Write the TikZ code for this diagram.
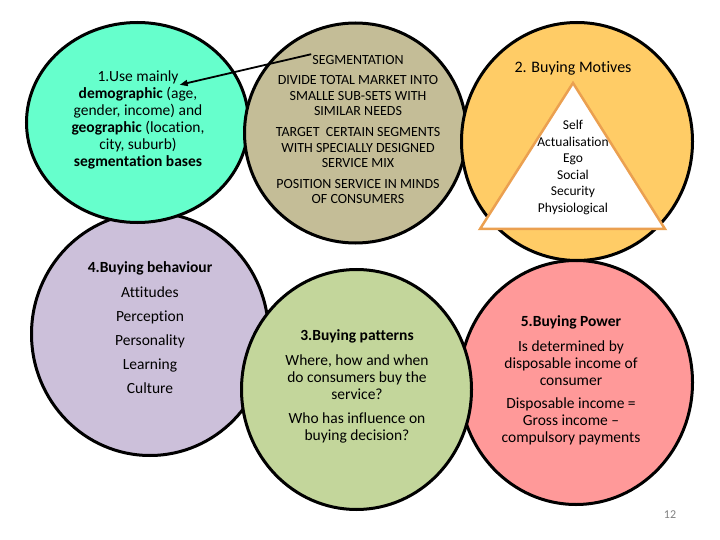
\documentclass[tikz,border=0pt]{standalone}
\usepackage{fontspec}
\setmainfont{Carlito}[Ligatures=NoCommon]
\usetikzlibrary{positioning,arrows.meta,shapes.geometric}

\definecolor{segcyan}{RGB}{102,255,204}
\definecolor{segtan}{RGB}{196,189,151}
\definecolor{motorange}{RGB}{255,204,102}
\definecolor{behpurple}{RGB}{204,192,218}
\definecolor{patgreen}{RGB}{195,214,155}
\definecolor{powpink}{RGB}{255,153,153}
\definecolor{triedge}{RGB}{235,160,80}

\tikzset{
  blob/.style={ellipse, draw=black, line width=3pt, inner sep=0pt},
  txt/.style={align=center, inner sep=1pt, font=\fontsize{15.5}{17}\selectfont},
  head/.style={txt, font=\fontsize{15.5}{17}\selectfont\bfseries},
  caps/.style={align=center, inner sep=1pt, font=\fontsize{14}{15.5}\selectfont},
}

\begin{document}
\begin{tikzpicture}[x=1pt, y=-1pt]
  \useasboundingbox (0,0) rectangle (720,540);

  % circles, back to front
  \node[blob, fill=behpurple, minimum width=237pt, minimum height=243pt] (behav) at (150,334) {};
  \node[blob, fill=segcyan, minimum width=222pt, minimum height=200pt] (demo) at (137.5,122.5) {};
  \node[blob, fill=segtan, minimum width=222pt, minimum height=220pt] (segm) at (355.5,133) {};
  \node[blob, fill=powpink, minimum width=233pt, minimum height=244pt] (power) at (576,382.5) {};
  \node[blob, fill=motorange, minimum width=231pt, minimum height=238pt] (motive) at (577,141.5) {};
  \node[blob, fill=patgreen, minimum width=230pt, minimum height=240pt] (pattern) at (356.5,389.5) {};

  % pyramid
  \draw[triedge, line width=2.5pt, fill=white] (573,83) -- (665,229) -- (480,229) -- cycle;

  % 1
  \node[txt] (usem) at (138,77) {1.Use mainly};
  \node[txt] (demotxt) at (138,128) {\textbf{demographic} (age,\\ gender, income) and\\ \textbf{geographic} (location,\\ city, suburb)\\ \textbf{segmentation bases}};

  % segmentation
  \node[caps] (seg) at (358,60) {SEGMENTATION};
  \node[caps] (divide) at (358,96) {DIVIDE TOTAL MARKET INTO\\ SMALLE SUB-SETS WITH\\ SIMILAR NEEDS};
  \node[caps] (target) at (358,148) {TARGET\ \ CERTAIN SEGMENTS\\ WITH SPECIALLY DESIGNED\\ SERVICE MIX};
  \node[caps] (position) at (358,191.5) {POSITION SERVICE IN MINDS\\ OF CONSUMERS};

  % 2
  \node[txt, font=\fontsize{16}{19}\selectfont] (mottitle) at (573,68) {2. Buying Motives};
  \node[align=center, inner sep=1pt, font=\fontsize{13.5}{16.6}\selectfont] (maslow) at (573,167.5) {Self\\ Actualisation\\ Ego\\ Social\\ Security\\ Physiological};

  % 4
  \node[head] (behtitle) at (150,268) {4.Buying behaviour};
  \node[txt, font=\fontsize{15.5}{24}\selectfont] (behlist) at (150,340) {Attitudes\\ Perception\\ Personality\\ Learning\\ Culture};

  % 3
  \node[head] (pattitle) at (357,336) {3.Buying patterns};
  \node[txt] (where) at (357,377) {Where, how and when\\ do consumers buy the\\ service?};
  \node[txt] (who) at (357,427.5) {Who has influence on\\ buying decision?};

  % 5
  \node[head] (powtitle) at (571,322) {5.Buying Power};
  \node[txt] (determ) at (571,363) {Is determined by\\ disposable income of\\ consumer};
  \node[txt] (dispinc) at (571,421.5) {Disposable income =\\ Gross income --\\ compulsory payments};

  \node[text=gray, font=\fontsize{12}{14}\selectfont] (pageno) at (670,515) {12};

  \draw[-{Triangle[length=8pt,width=6pt]}, line width=1.8pt] (seg.north west) -- (usem.south east);
\end{tikzpicture}
\end{document}
